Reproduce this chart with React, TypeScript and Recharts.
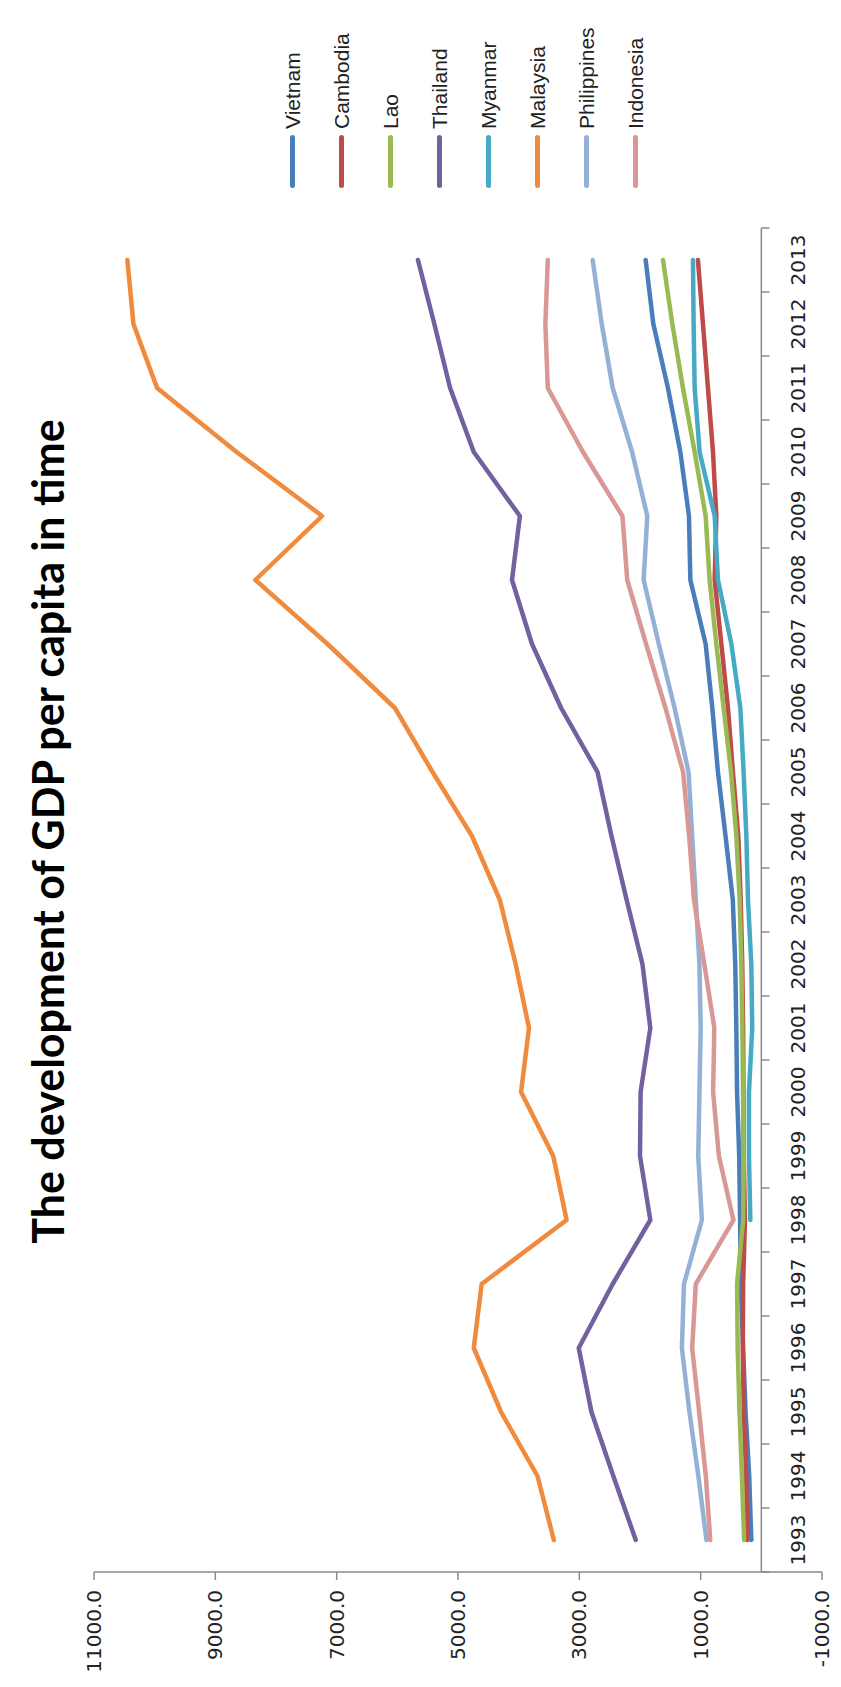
import React from 'react';
import { ComposedChart, Line, XAxis, YAxis, Legend, ReferenceLine } from 'recharts';

// ---------------------------------------------------------------------------
// DATA  (GDP per capita, USD)
// ---------------------------------------------------------------------------

const years = [
  '1993', '1994', '1995', '1996', '1997', '1998', '1999', '2000', '2001', '2002', '2003',
  '2004', '2005', '2006', '2007', '2008', '2009', '2010', '2011', '2012', '2013',
];

const vietnam = [165, 200, 260, 300, 340, 350, 365, 400, 412, 430, 470, 590, 715, 808, 918, 1170, 1193, 1335, 1539, 1780, 1907];
const cambodia = [230, 250, 290, 305, 300, 270, 290, 295, 300, 315, 340, 380, 468, 550, 659, 769, 742, 797, 880, 962, 1045];
const lao = [284, 320, 360, 390, 400, 300, 290, 302, 313, 330, 357, 412, 500, 621, 742, 852, 918, 1099, 1292, 1467, 1621];
const thailand = [2070, 2440, 2800, 3010, 2450, 1830, 2000, 1990, 1830, 1960, 2220, 2470, 2700, 3300, 3780, 4110, 3980, 4740, 5130, 5390, 5660];
const myanmar = [null, null, null, null, null, 181, 204, 204, 150, 165, 220, 247, 292, 346, 494, 715, 769, 1017, 1099, 1116, 1127];
const malaysia = [3420, 3690, 4290, 4740, 4610, 3210, 3430, 3960, 3830, 4050, 4310, 4770, 5420, 6040, 7150, 8340, 7240, 8650, 9960, 10350, 10450];
const philippines = [905, 1038, 1185, 1310, 1275, 980, 1040, 1020, 1000, 1020, 1080, 1140, 1200, 1430, 1690, 1940, 1880, 2130, 2450, 2630, 2780];
const indonesia = [842, 915, 1025, 1140, 1080, 460, 700, 795, 775, 940, 1110, 1190, 1290, 1580, 1900, 2210, 2290, 2940, 3520, 3560, 3520];

const valueTicks = [-1000, 1000, 3000, 5000, 7000, 9000, 11000];

const series = [
  { name: 'Vietnam', color: '#4A7EBB', values: vietnam },
  { name: 'Cambodia', color: '#BE4B48', values: cambodia },
  { name: 'Lao', color: '#98B954', values: lao },
  { name: 'Thailand', color: '#73609F', values: thailand },
  { name: 'Myanmar', color: '#46AAC5', values: myanmar },
  { name: 'Malaysia', color: '#F08A3C', values: malaysia },
  { name: 'Philippines', color: '#93B1D6', values: philippines },
  { name: 'Indonesia', color: '#D99795', values: indonesia },
];

const data = years.map((year, i) => {
  const row: Record<string, string | number | null> = { year };
  series.forEach((s) => {
    row[s.name] = s.values[i];
  });
  return row;
});

// ---------------------------------------------------------------------------
// LAYOUT  (chart is drawn landscape, then turned a quarter to the left)
// ---------------------------------------------------------------------------

const CHART_W = 1687;
const CHART_H = 841;
const MARGIN = { top: 94, right: 228, bottom: 0, left: 0 };
const Y_AXIS_W = 115;
const X_AXIS_H = 19;
const PLOT_W = CHART_W - MARGIN.left - MARGIN.right - Y_AXIS_W;
const PLOT_H = CHART_H - MARGIN.top - MARGIN.bottom - X_AXIS_H;
const BAND = PLOT_W / years.length;
const DOMAIN: [number, number] = [-1000, 11000];
const ZERO_FROM_BOTTOM = (PLOT_H * (0 - DOMAIN[0])) / (DOMAIN[1] - DOMAIN[0]);

const AXIS_COLOR = '#8a8a8a';
const TEXT_COLOR = '#222';
const TICK_FONT = '"DejaVu Sans", Verdana, sans-serif';

// category ticks: label sits between the zero line and the plot bottom,
// tick marks hang below the zero line at the band edges
const YearTick = (props: any) => {
  const { x, y, payload, index } = props;
  const zeroY = y - ZERO_FROM_BOTTOM;
  const left = x - BAND / 2;
  const right = x + BAND / 2;
  return (
    <g>
      <line x1={left} x2={left} y1={zeroY} y2={zeroY + 8} stroke={AXIS_COLOR} strokeWidth={1.5} />
      {index === years.length - 1 && (
        <line x1={right} x2={right} y1={zeroY} y2={zeroY + 8} stroke={AXIS_COLOR} strokeWidth={1.5} />
      )}
      <text
        x={x}
        y={y - 24}
        textAnchor="middle"
        dominantBaseline="central"
        fill={TEXT_COLOR}
        fontFamily={TICK_FONT}
        fontSize={20}
      >
        {payload.value}
      </text>
    </g>
  );
};

const LegendContent = () => (
  <div style={{ display: 'flex', flexDirection: 'column' }}>
    {series.map((s) => (
      <div key={s.name} style={{ height: 49, display: 'flex', alignItems: 'center' }}>
        <span
          style={{ display: 'inline-block', width: 53, height: 5, borderRadius: 3, background: s.color }}
        />
        <span
          style={{
            marginLeft: 6,
            fontFamily: '"Liberation Sans", Arial, sans-serif',
            fontSize: 21,
            color: TEXT_COLOR,
            whiteSpace: 'nowrap',
          }}
        >
          {s.name}
        </span>
      </div>
    ))}
  </div>
);

export default function App() {
  return (
    <div
      style={{
        position: 'absolute',
        left: 0,
        top: 0,
        width: CHART_H,
        height: CHART_W,
        overflow: 'hidden',
        background: '#fff',
      }}
    >
      <div
        style={{
          position: 'absolute',
          left: 0,
          top: 0,
          width: CHART_W,
          height: CHART_H,
          transformOrigin: '0 0',
          transform: `translateY(${CHART_W}px) rotate(-90deg)`,
        }}
      >
        <div
          style={{
            position: 'absolute',
            left: 12,
            top: 24,
            width: CHART_W,
            textAlign: 'center',
            fontFamily: 'Lato, "Open Sans", sans-serif',
            fontWeight: 700,
            fontSize: 43,
            lineHeight: '48px',
            color: '#000',
          }}
        >
          The development of GDP per capita in time
        </div>

        <ComposedChart width={CHART_W} height={CHART_H} data={data} margin={MARGIN}>
          <XAxis
            dataKey="year"
            height={X_AXIS_H}
            axisLine={false}
            tickLine={false}
            tickSize={0}
            tickMargin={0}
            interval={0}
            padding={{ left: BAND / 2, right: BAND / 2 }}
            tick={<YearTick />}
          />
          <YAxis
            type="number"
            domain={DOMAIN}
            ticks={valueTicks}
            interval={0}
            width={Y_AXIS_W}
            tickSize={8}
            tickMargin={10}
            tickFormatter={(v: number) => v.toFixed(1)}
            axisLine={{ stroke: AXIS_COLOR, strokeWidth: 1.5 }}
            tickLine={{ stroke: AXIS_COLOR, strokeWidth: 1.5 }}
            tick={{ fill: TEXT_COLOR, fontFamily: TICK_FONT, fontSize: 20 }}
          />
          <ReferenceLine y={0} stroke={AXIS_COLOR} strokeWidth={1.5} ifOverflow="visible" />

          {series.map((s) => (
            <Line
              key={s.name}
              type="linear"
              dataKey={s.name}
              stroke={s.color}
              strokeWidth={4.5}
              strokeLinejoin="round"
              strokeLinecap="round"
              dot={false}
              activeDot={false}
              isAnimationActive={false}
            />
          ))}

          <Legend
            layout="horizontal"
            align="center"
            verticalAlign="middle"
            content={<LegendContent />}
            wrapperStyle={{ left: 1499, top: 268, width: 188, height: 'auto' }}
          />
        </ComposedChart>
      </div>
    </div>
  );
}
